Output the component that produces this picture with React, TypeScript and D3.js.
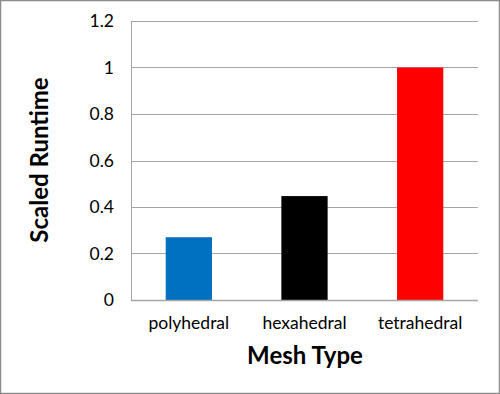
import React, { useEffect, useRef } from 'react';
import * as d3 from 'd3';

const categories = ['polyhedral', 'hexahedral', 'tetrahedral'];
const runtimes = [0.27, 0.447, 1.0];
const barColors = ['#0070C0', '#000000', '#FF0000'];
const yTicks = [0, 0.2, 0.4, 0.6, 0.8, 1, 1.2];

const App: React.FC = () => {
  const svgRef = useRef<SVGSVGElement | null>(null);

  useEffect(() => {
    const width = 500;
    const height = 394;
    const margin = { top: 21, right: 22, bottom: 94, left: 131 };
    const font = 'Lato, "Open Sans", sans-serif';

    const svg = d3.select(svgRef.current)
      .attr('width', width)
      .attr('height', height);

    svg.selectAll('*').remove();

    // background + frame
    svg.append('rect')
      .attr('x', 0.5).attr('y', 0.5)
      .attr('width', width - 1).attr('height', height - 1)
      .attr('fill', '#fff')
      .attr('stroke', '#8c8c8c')
      .attr('stroke-width', 1.5);

    const xScale = d3.scaleBand<string>()
      .domain(categories)
      .range([margin.left, width - margin.right])
      .paddingInner(0.6)
      .paddingOuter(0.3);

    const yScale = d3.scaleLinear()
      .domain([0, 1.2])
      .range([height - margin.bottom, margin.top]);

    // gridlines
    svg.append('g')
      .selectAll('line')
      .data(yTicks)
      .join('line')
      .attr('x1', margin.left)
      .attr('x2', width - margin.right)
      .attr('y1', d => Math.round(yScale(d)) + 0.5)
      .attr('y2', d => Math.round(yScale(d)) + 0.5)
      .attr('stroke', '#a6a6a6')
      .attr('stroke-width', 1);

    // left axis line
    svg.append('line')
      .attr('x1', margin.left + 0.5).attr('x2', margin.left + 0.5)
      .attr('y1', yScale(1.2)).attr('y2', yScale(0))
      .attr('stroke', '#a6a6a6');

    // bars
    svg.append('g')
      .selectAll('rect')
      .data(runtimes)
      .join('rect')
      .attr('x', (_, i) => xScale(categories[i]) as number)
      .attr('y', d => yScale(d))
      .attr('width', xScale.bandwidth())
      .attr('height', d => yScale(0) - yScale(d))
      .attr('fill', (_, i) => barColors[i]);

    // x axis baseline
    svg.append('line')
      .attr('x1', margin.left).attr('x2', width - margin.right)
      .attr('y1', Math.round(yScale(0)) + 0.5).attr('y2', Math.round(yScale(0)) + 0.5)
      .attr('stroke', '#a6a6a6')
      .attr('stroke-width', 1.5);

    // y tick labels
    svg.append('g')
      .selectAll('text')
      .data(yTicks)
      .join('text')
      .attr('x', 114)
      .attr('y', d => yScale(d))
      .attr('dy', '0.35em')
      .attr('text-anchor', 'end')
      .attr('font-family', font)
      .attr('font-size', 17.5)
      .attr('fill', '#000')
      .text(d => String(d));

    // category labels
    svg.append('g')
      .selectAll('text')
      .data(categories)
      .join('text')
      .attr('x', d => (xScale(d) as number) + xScale.bandwidth() / 2)
      .attr('y', 329)
      .attr('text-anchor', 'middle')
      .attr('font-family', font)
      .attr('font-size', 17.5)
      .attr('fill', '#000')
      .text(d => d);

    // axis titles
    svg.append('text')
      .attr('x', 305)
      .attr('y', 364)
      .attr('text-anchor', 'middle')
      .attr('font-family', font)
      .attr('font-weight', 'bold')
      .attr('font-size', 24)
      .text('Mesh Type');

    svg.append('text')
      .attr('transform', 'translate(48,160) rotate(-90)')
      .attr('text-anchor', 'middle')
      .attr('font-family', font)
      .attr('font-weight', 'bold')
      .attr('font-size', 24)
      .text('Scaled Runtime');
  }, []);

  return (
    <svg ref={svgRef} style={{ position: 'absolute', left: 0, top: 0 }}></svg>
  );
};

export default App;
